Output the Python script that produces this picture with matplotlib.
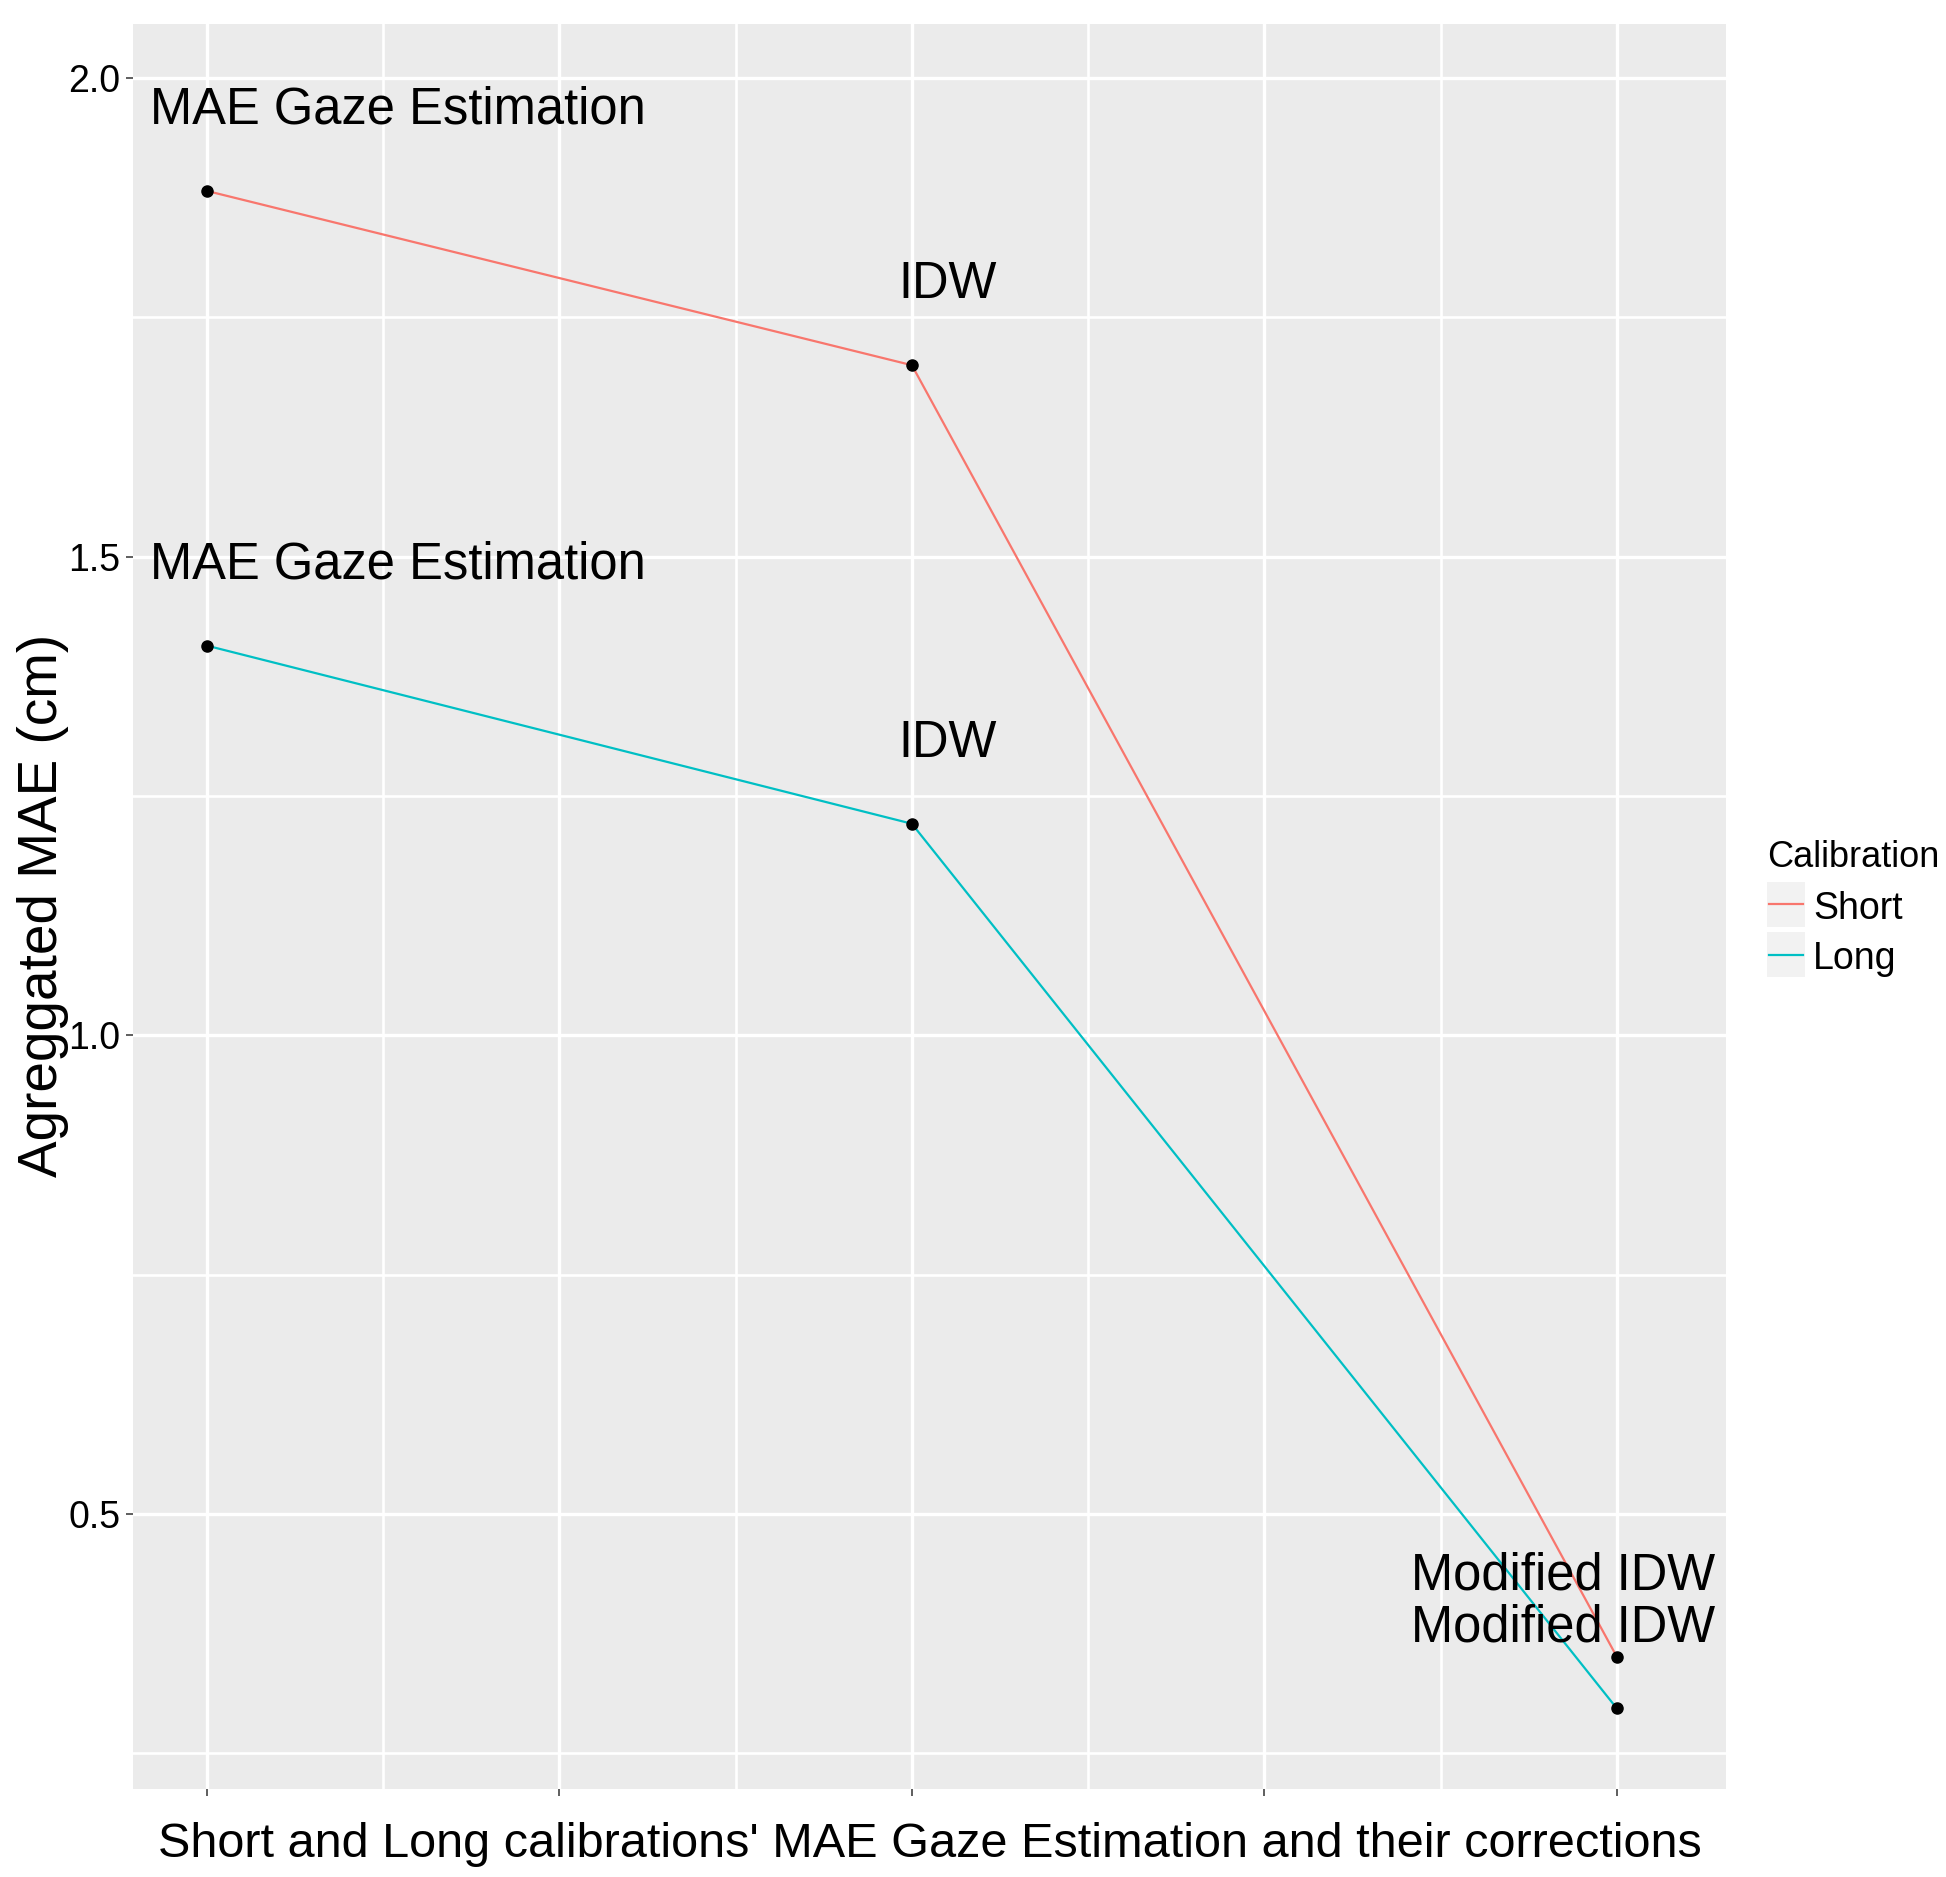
import matplotlib
matplotlib.use("Agg")
import matplotlib.pyplot as plt
from matplotlib.patches import Rectangle
from matplotlib.lines import Line2D

plt.rcParams['font.family'] = ['Liberation Sans', 'DejaVu Sans']

# data
steps = [1, 2, 3]
step_labels = ["MAE Gaze Estimation", "IDW", "Modified IDW"]
series = ["Short", "Long"]
short_mae = [1.882, 1.700, 0.351]
long_mae = [1.407, 1.221, 0.297]
colors = ["#F8766D", "#00BFC4"]

# label placement (nudges, in data units)
label_dy = 0.07
label_dx = [-0.081, 0.051, 0.139]
label_ha = ["left", "center", "right"]

W, H = 1946, 1877
fig = plt.figure(figsize=(W / 100, H / 100), dpi=100)
# panel box in pixels: left 133, right 1726, top 24, bottom 1789
ax = fig.add_axes([133 / W, 1 - 1789 / H, (1726 - 133) / W, (1789 - 24) / H])
ax.set_facecolor("#EBEBEB")
for s in ax.spines.values():
    s.set_visible(False)

for vals, col in zip([short_mae, long_mae], colors):
    ax.plot(steps, vals, color=col, lw=1.6, zorder=3)
    ax.plot(steps, vals, "o", color="black", ms=8, zorder=4)
    for x, y, txt, dx, ha in zip(steps, vals, step_labels, label_dx, label_ha):
        ax.text(x + dx, y + label_dy, txt, ha=ha, va="baseline",
                fontsize=36.5, color="black", zorder=5)

ax.set_xlim(0.895, 3.155)
ax.set_ylim(0.2127, 2.0564)
ax.set_xticks([1, 1.5, 2, 2.5, 3])
ax.set_xticklabels([])
ax.set_xticks([1.25, 1.75, 2.25, 2.75], minor=True)
ax.set_yticks([0.5, 1.0, 1.5, 2.0])
ax.set_yticklabels(["0.5", "1.0", "1.5", "2.0"])
ax.set_yticks([0.25, 0.75, 1.25, 1.75], minor=True)
ax.grid(which="major", color="white", lw=2.4)
ax.grid(which="minor", color="white", lw=1.9)
ax.set_axisbelow(True)
ax.tick_params(which="major", length=5, width=1.1, color="#333333",
               labelsize=27, pad=4, labelcolor="black")
ax.tick_params(which="minor", length=0)

fig.text(929.5 / W, 1 - 1857 / H,
         "Short and Long calibrations' MAE Gaze Estimation and their corrections",
         ha="center", va="baseline", fontsize=35)
fig.text(57 / W, 1 - 905 / H, "Agreggated MAE (cm)", rotation=90,
         rotation_mode="anchor", ha="center", va="baseline", fontsize=39.5)

# legend
fig.text(1767 / W, 1 - 867 / H, "Calibration", ha="left", va="baseline", fontsize=26)
key_tops = [882, 932]
for name, col, top in zip(series, colors, key_tops):
    fig.add_artist(Rectangle((1767 / W, 1 - (top + 45) / H), 38 / W, 45 / H,
                             transform=fig.transFigure, facecolor="#F2F2F2",
                             edgecolor="none"))
    yc = 1 - (top + 22.5) / H
    fig.add_artist(Line2D([1769 / W, 1803 / W], [yc, yc], transform=fig.transFigure,
                          color=col, lw=1.6))
    fig.text(1813 / W, 1 - (top + 37) / H, name, ha="left", va="baseline", fontsize=27)

fig.savefig("out.png", dpi=100, facecolor="white")
